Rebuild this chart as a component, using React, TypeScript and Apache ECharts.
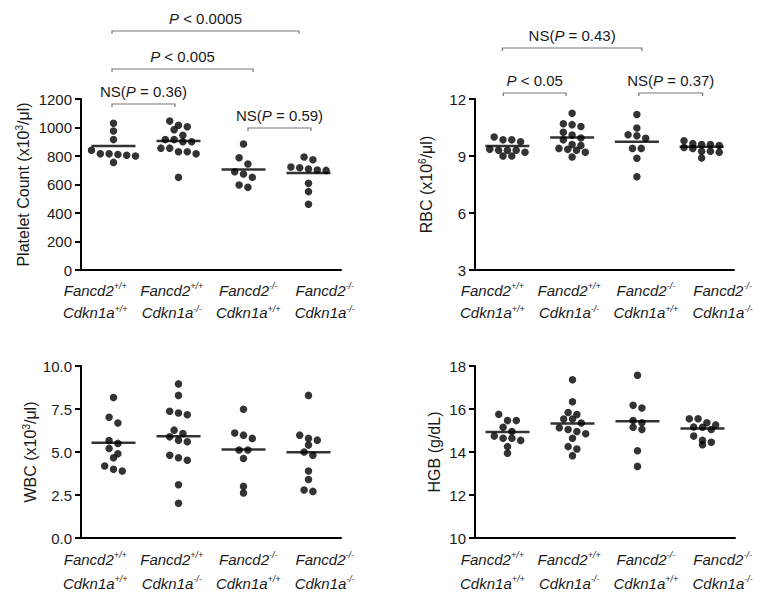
import React, { useEffect, useRef } from 'react';
import * as echarts from 'echarts';

// ---------- data ----------
const groupKeys = ['F+/+ C+/+', 'F+/+ C-/-', 'F-/- C+/+', 'F-/- C-/-'];
const fancd2Genotypes = ['+/+', '+/+', '-/-', '-/-'];
const cdkn1aGenotypes = ['+/+', '-/-', '+/+', '-/-'];

const plateletValues = [
  [1030, 975, 915, 840, 815, 815, 810, 805, 800, 755],
  [1045, 1005, 985, 1015, 945, 915, 900, 915, 855, 830, 815, 830, 855, 650, 900],
  [884, 788, 744, 674, 690, 650, 580, 596],
  [793, 774, 723, 709, 699, 702, 718, 608, 550, 461],
];
const plateletMeans = [870, 905, 706, 681];

const rbcValues = [
  [10.0, 9.75, 9.85, 9.85, 9.3, 9.2, 9.35, 9.3, 9.3, 9.0, 9.0],
  [11.25, 10.65, 10.55, 10.7, 10.1, 10.25, 9.95, 9.85, 9.6, 9.55, 9.2, 9.4, 9.3, 9.35, 8.95],
  [11.18, 10.47, 10.07, 10.12, 9.93, 9.4, 9.4, 8.88, 7.91],
  [9.6, 9.65, 9.8, 9.6, 9.55, 9.25, 9.4, 9.2, 9.25, 9.45, 8.9],
];
const rbcMeans = [9.53, 9.98, 9.75, 9.49];

const wbcValues = [
  [8.17, 7.02, 6.69, 5.67, 5.5, 5.21, 4.9, 4.67, 4.19, 4.0, 3.9],
  [8.96, 8.29, 7.27, 7.17, 7.37, 6.08, 6.27, 5.88, 5.69, 5.6, 4.81, 4.67, 4.52, 3.1, 2.02],
  [7.48, 6.1, 5.98, 5.79, 5.12, 5.12, 4.62, 3.0, 2.62],
  [8.29, 5.69, 5.98, 5.79, 5.4, 4.81, 5.0, 3.9, 3.4, 2.71, 2.79],
];
const wbcMeans = [5.54, 5.92, 5.15, 4.98];

const hgbValues = [
  [15.75, 15.46, 15.46, 15.15, 14.95, 14.74, 14.64, 14.54, 14.64, 14.25, 13.94],
  [17.36, 16.34, 15.84, 15.74, 15.53, 15.53, 15.35, 15.05, 15.13, 14.95, 14.85, 14.64, 14.25, 14.14, 13.83],
  [17.57, 16.17, 16.05, 15.36, 15.46, 15.05, 15.15, 14.06, 13.33],
  [15.55, 15.55, 15.26, 15.16, 15.36, 15.05, 15.15, 14.54, 14.74, 14.45, 14.34],
];
const hgbMeans = [14.93, 15.32, 15.43, 15.09];

// axis ranges: [min, max, interval]
const plateletAxis = [0, 1200, 200];
const rbcAxis = [3, 12, 3];
const wbcAxis = [0, 10, 2.5];
const hgbAxis = [10, 18, 2];

const plateletComparisons = [
  { label: 'NS(P = 0.36)', from: 0, to: 1 },
  { label: 'NS(P = 0.59)', from: 2, to: 3 },
  { label: 'P < 0.005', from: 0, to: 2 },
  { label: 'P < 0.0005', from: 0, to: 3 },
];
const rbcComparisons = [
  { label: 'P < 0.05', from: 0, to: 1 },
  { label: 'NS(P = 0.37)', from: 2, to: 3 },
  { label: 'NS(P = 0.43)', from: 0, to: 2 },
];

// ---------- layout / style ----------
const FONT = 'Liberation Sans, Arial, Helvetica, sans-serif';
const INK = '#000';
const TEXT = '#1a1a1a';
const DOT = 7.5;
const DOT_GAP = 8.8;
const ROW_H = 6.5;

const panels = [
  {
    values: plateletValues, means: plateletMeans, axis: plateletAxis,
    name: ['Platelet Count (x10', '3', '/μl)'], fmt: (v: number) => String(v),
    comparisons: plateletComparisons,
    left: 81, top: 99, width: 260, height: 171, labelLeft: 57, labelWidth: 306, nameGap: 49,
    labelLine: 22.5,
    bracketY: [104, 128, 69, 31], nudge: [[-1.5, -3.5], [4.5, 2.5], [-1.5, 9.5], [-1.5, -9.5]],
  },
  {
    values: rbcValues, means: rbcMeans, axis: rbcAxis,
    name: ['RBC (x10', '6', '/μl)'], fmt: (v: number) => String(v),
    comparisons: rbcComparisons,
    left: 475, top: 99, width: 259, height: 171, labelLeft: 454, labelWidth: 307, nameGap: 40,
    labelLine: 22.5,
    bracketY: [93, 93, 48], nudge: [[-4, -6], [2, 1], [-5, 5]],
  },
  {
    values: wbcValues, means: wbcMeans, axis: wbcAxis,
    name: ['WBC (x10', '3', '/μl)'], fmt: (v: number) => v.toFixed(1),
    comparisons: [],
    left: 81, top: 366, width: 260, height: 172, labelLeft: 57, labelWidth: 306, nameGap: 36,
    labelLine: 24,
    bracketY: [], nudge: [],
  },
  {
    values: hgbValues, means: hgbMeans, axis: hgbAxis,
    name: ['HGB (g/dL)', '', ''], fmt: (v: number) => String(v),
    comparisons: [],
    left: 475, top: 366, width: 260, height: 172, labelLeft: 454, labelWidth: 307, nameGap: 33,
    labelLine: 24,
    bracketY: [], nudge: [],
  },
];

function swarmOffsets(values: number[], pxPerUnit: number): number[] {
  const order = values.map((_, i) => i).sort((a, b) => values[b] - values[a]);
  const offsets = new Array(values.length).fill(0);
  let row: number[] = [];
  let rowStart: number | null = null;
  const flush = () => {
    row.forEach((k, j) => {
      offsets[k] = (j - (row.length - 1) / 2) * DOT_GAP;
    });
  };
  for (const k of order) {
    const y = values[k] * pxPerUnit;
    if (rowStart === null || rowStart - y > ROW_H) {
      flush();
      row = [];
      rowStart = y;
    }
    row.push(k);
  }
  flush();
  return offsets;
}

function richLabel(text: string): string {
  return '{t|' + text.replace(/P/g, '}{p|P}{t|') + '}';
}

export default function App() {
  const ref = useRef<HTMLDivElement>(null);

  useEffect(() => {
    if (!ref.current) return;
    const chart = echarts.init(ref.current, undefined, { renderer: 'svg' });

    const grids: any[] = [];
    const xAxes: any[] = [];
    const yAxes: any[] = [];
    const series: any[] = [];

    panels.forEach((p, pi) => {
      const [min, max, interval] = p.axis;
      const pxPerUnit = p.height / (max - min);
      grids.push({ left: p.left, top: p.top, width: p.width, height: p.height, containLabel: false });
      grids.push({ left: p.labelLeft, top: p.top + p.height - 1, width: p.labelWidth, height: 1, containLabel: false });

      xAxes.push({
        gridIndex: 2 * pi, type: 'category', data: groupKeys, boundaryGap: true,
        axisLine: { lineStyle: { color: INK, width: 2 } },
        axisTick: { show: false }, axisLabel: { show: false },
      });
      xAxes.push({
        gridIndex: 2 * pi + 1, type: 'category', data: groupKeys, boundaryGap: true,
        axisLine: { show: false }, axisTick: { show: false },
        axisLabel: {
          interval: 0, margin: 9,
          formatter: (_v: string, i: number) =>
            `{i|Fancd2}{s|${fancd2Genotypes[i]}}\n{i|Cdkn1a}{s|${cdkn1aGenotypes[i]}}`,
          rich: {
            i: { fontSize: 15, fontStyle: 'italic', fontFamily: FONT, color: TEXT, lineHeight: p.labelLine },
            s: { fontSize: 9, fontStyle: 'italic', fontFamily: FONT, color: TEXT, padding: [0, 0, 8, 0] },
          },
        },
      });

      yAxes.push({
        gridIndex: 2 * pi, type: 'value', min, max, interval,
        axisLine: { show: true, lineStyle: { color: INK, width: 2 } },
        axisTick: { show: true, length: 6, lineStyle: { color: INK, width: 2 } },
        splitLine: { show: false },
        axisLabel: { margin: 9, fontSize: 15, fontFamily: FONT, color: TEXT, formatter: p.fmt },
        name: p.name[1]
          ? `{n|${p.name[0]}}{s|${p.name[1]}}{n|${p.name[2]}}`
          : `{n|${p.name[0]}}`,
        nameLocation: 'middle', nameGap: p.nameGap, nameRotate: 90,
        nameTextStyle: {
          fontSize: 16, fontFamily: FONT, color: TEXT,
          rich: {
            n: { fontSize: 16, fontFamily: FONT, color: TEXT },
            s: { fontSize: 10, fontFamily: FONT, color: TEXT, padding: [0, 0, 8, 0] },
          },
        },
      });
      yAxes.push({ gridIndex: 2 * pi + 1, type: 'value', show: false });

      const dots: any[] = [];
      p.values.forEach((vals, g) => {
        const offs = swarmOffsets(vals, pxPerUnit);
        vals.forEach((v, k) => {
          dots.push({ value: [g, v], symbolOffset: [offs[k], 0] });
        });
      });
      series.push({
        type: 'scatter', xAxisIndex: 2 * pi, yAxisIndex: 2 * pi, data: dots,
        symbol: 'circle', symbolSize: DOT, itemStyle: { color: INK }, clip: false,
      });
      series.push({
        type: 'scatter', xAxisIndex: 2 * pi, yAxisIndex: 2 * pi,
        data: p.means.map((m, g) => [g, m]),
        symbol: 'rect', symbolSize: [44, 2.5], itemStyle: { color: INK }, z: 3,
      });
    });

    chart.setOption({
      animation: false,
      backgroundColor: '#fff',
      grid: grids, xAxis: xAxes, yAxis: yAxes, series,
    });

    const graphics: any[] = [];
    panels.forEach((p, pi) => {
      p.comparisons.forEach((c, ci) => {
        const xa = chart.convertToPixel({ xAxisIndex: 2 * pi }, c.from) as number;
        const xb = chart.convertToPixel({ xAxisIndex: 2 * pi }, c.to) as number;
        const x1 = xa + p.nudge[ci][0];
        const x2 = xb + p.nudge[ci][1];
        const y = p.bracketY[ci];
        graphics.push({
          type: 'polyline',
          shape: { points: [[x1, y + 3], [x1, y], [x2, y], [x2, y + 3]] },
          style: { stroke: '#777', lineWidth: 1.2, fill: 'none' },
        });
        graphics.push({
          type: 'text',
          x: (x1 + x2) / 2, y: y - 13,
          style: {
            text: richLabel(c.label), align: 'center', verticalAlign: 'middle',
            fontSize: 15, fontFamily: FONT, fill: TEXT,
            rich: {
              t: { fontSize: 15, fontFamily: FONT, fill: TEXT },
              p: { fontSize: 15, fontFamily: FONT, fontStyle: 'italic', fill: TEXT },
            },
          },
        });
      });
    });
    chart.setOption({ graphic: graphics });

    return () => chart.dispose();
  }, []);

  return (
    <div
      ref={ref}
      style={{ position: 'fixed', left: 0, top: 0, width: 762, height: 599, background: '#fff' }}
    />
  );
}
